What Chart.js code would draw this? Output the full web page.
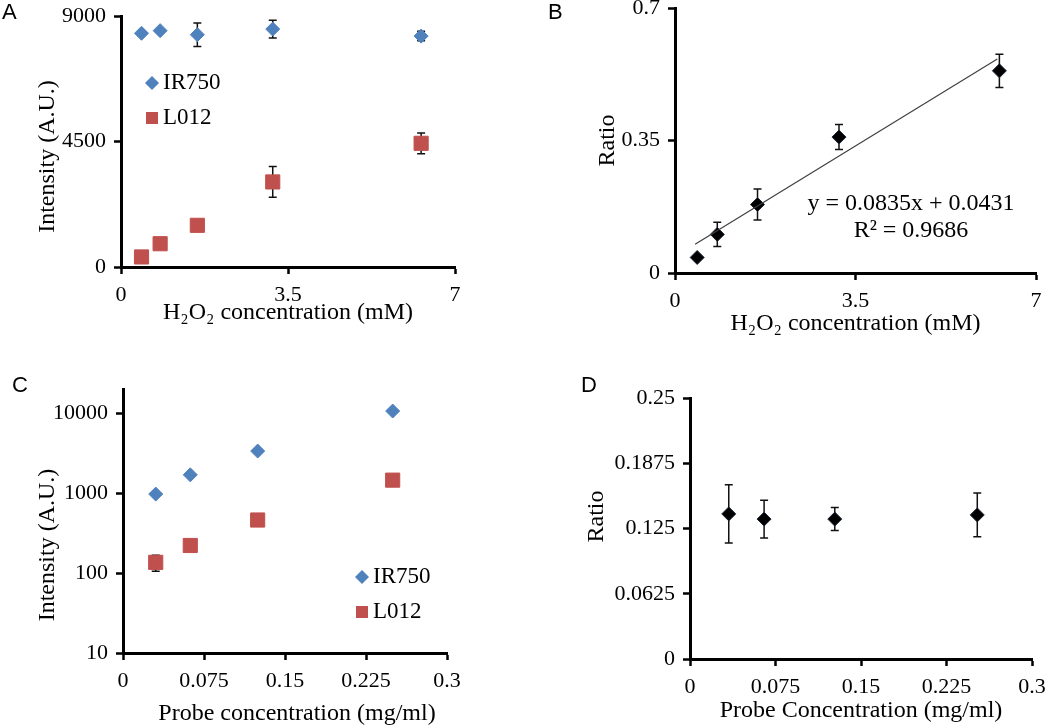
<!DOCTYPE html>
<html>
<head>
<meta charset="utf-8">
<script src="https://cdn.jsdelivr.net/npm/chart.js@4/dist/chart.umd.min.js"></script>
<style>
  body { margin: 0; background: #fff; width: 1050px; height: 728px; position: relative; overflow: hidden; }
  .panel { position: absolute; width: 525px; height: 364px; }
  .tag { position: absolute; font-family: "Liberation Sans", Arial, sans-serif; font-size: 22px; line-height: 22px; color: #000; }
</style>
</head>
<body>
<div class="panel" style="left:0;top:0"><canvas id="chartA" width="525" height="364"></canvas></div>
<div class="panel" style="left:525px;top:0"><canvas id="chartB" width="525" height="364"></canvas></div>
<div class="panel" style="left:0;top:364px"><canvas id="chartC" width="525" height="364"></canvas></div>
<div class="panel" style="left:525px;top:364px"><canvas id="chartD" width="525" height="364"></canvas></div>
<div class="tag" style="left:2px;top:1px">A</div>
<div class="tag" style="left:548px;top:1px">B</div>
<div class="tag" style="left:12px;top:374px">C</div>
<div class="tag" style="left:581px;top:374px">D</div>
<script>
// panel A / B : H2O2 series
const h2o2 = [0.43, 0.82, 1.6, 3.18, 6.29];
const irA = [8380, 8475, 8330, 8530, 8280];
const irAErr = [0, 0, 420, 320, 170];
const lA = [360, 835, 1495, 3050, 4435];
const lAErr = [0, 0, 0, 550, 370];
const ratioB = [0.041, 0.102, 0.181, 0.359, 0.534];
const ratioBErr = [0, 0.032, 0.041, 0.033, 0.044];
const trendX = [0.39, 6.25];
const trendY = [0.076, 0.565];
const trendLabel = ['y = 0.0835x + 0.0431', 'R\u00B2 = 0.9686'];

// panel C / D : probe concentration series
const probeC = [0.0303, 0.0623, 0.1247, 0.2497];
const irC = [970, 1690, 3350, 10600];
const lC = [136, 221, 460, 1450];
const lCErr = [31, 0, 0, 0];
const probeD = [0.034, 0.065, 0.127, 0.252];
const ratioD = [0.139, 0.134, 0.134, 0.138];
const ratioDErr = [0.028, 0.018, 0.011, 0.021];

const logTicks = [10, 100, 1000, 10000];

const serif = '"Liberation Serif", "Times New Roman", serif';
const blue = '#4F81BD';
const red = '#C0504D';

function pts(xs, ys) {
    return xs.map((x, i) => ({x: x, y: ys[i]}));
}

// draws vertical error bars behind the markers
const errorBars = {
    id: 'errorBars',
    beforeDatasetsDraw(chart) {
        const ctx = chart.ctx;
        const xs = chart.scales.x, ys = chart.scales.y;
        ctx.save();
        ctx.strokeStyle = '#111';
        ctx.lineWidth = 1.5;
        chart.data.datasets.forEach(ds => {
            if (!ds.errors) return;
            ds.data.forEach((p, i) => {
                const e = ds.errors[i];
                if (!e) return;
                const px = xs.getPixelForValue(p.x);
                const top = ys.getPixelForValue(p.y + e);
                const bot = ys.getPixelForValue(p.y - e);
                ctx.beginPath();
                ctx.moveTo(px, top); ctx.lineTo(px, bot);
                ctx.moveTo(px - 4, top); ctx.lineTo(px + 4, top);
                ctx.moveTo(px - 4, bot); ctx.lineTo(px + 4, bot);
                ctx.stroke();
            });
        });
        ctx.restore();
    }
};

// legend entries and the trend equation
const notes = {
    id: 'notes',
    afterDraw(chart, args, opts) {
        if (!opts.items) return;
        const ctx = chart.ctx;
        ctx.save();
        opts.items.forEach(it => {
            if (it.marker) {
                ctx.fillStyle = it.color;
                ctx.beginPath();
                if (it.marker === 'diamond') {
                    ctx.moveTo(it.mx, it.y - 7); ctx.lineTo(it.mx + 7, it.y);
                    ctx.lineTo(it.mx, it.y + 7); ctx.lineTo(it.mx - 7, it.y);
                    ctx.closePath();
                } else {
                    ctx.rect(it.mx - 6, it.y - 6, 12, 12);
                }
                ctx.fill();
            }
            ctx.fillStyle = '#000';
            ctx.font = it.size + 'px ' + serif;
            ctx.textAlign = it.align || 'left';
            ctx.textBaseline = 'middle';
            ctx.fillText(it.text, it.x, it.y);
        });
        ctx.restore();
    }
};

function fmt(v) {
    return String(+(+v).toFixed(4));
}

function axis(min, max, step, title, titlePad, tickPad, extra) {
    return Object.assign({
        type: 'linear',
        min: min,
        max: max,
        border: {display: true, color: '#000', width: 3},
        grid: {display: true, drawOnChartArea: false, drawTicks: true, tickLength: 7, tickWidth: 2.5, tickColor: '#000'},
        ticks: {stepSize: step, color: '#000', font: {family: serif, size: 22}, padding: tickPad, maxRotation: 0, autoSkip: false, callback: fmt},
        title: {display: true, text: title, color: '#000', font: {family: serif, size: 24}, padding: titlePad}
    }, extra || {});
}

function makeChart(id, datasets, xAxis, yAxis, box, legendItems) {
    xAxis.afterFit = s => { s.height = box.h; s.paddingLeft = 0; s.paddingRight = 0; };
    yAxis.afterFit = s => { s.width = box.w; s.paddingTop = 0; s.paddingBottom = 0; };
    return new Chart(document.getElementById(id), {
        type: 'scatter',
        data: {datasets: datasets},
        options: {
            responsive: false,
            animation: false,
            layout: {padding: {left: 0, right: box.r, top: box.t, bottom: 0}},
            scales: {x: xAxis, y: yAxis},
            plugins: {
                legend: {display: false},
                tooltip: {enabled: false},
                notes: {items: legendItems}
            }
        },
        plugins: [errorBars, notes]
    });
}

function diamonds(xs, ys, errs, color) {
    return {data: pts(xs, ys), errors: errs, pointStyle: 'rectRot', pointRadius: 7, pointHoverRadius: 7,
        backgroundColor: color, borderColor: color, borderWidth: 1};
}
function squares(xs, ys, errs, color) {
    return {data: pts(xs, ys), errors: errs, pointStyle: 'rect', pointRadius: 10, pointHoverRadius: 10,
        backgroundColor: color, borderColor: color, borderWidth: 1};
}

// A
makeChart('chartA',
    [diamonds(h2o2, irA, irAErr, blue), squares(h2o2, lA, lAErr, red)],
    axis(0, 7, 3.5, 'H\u2082O\u2082 concentration (mM)', {bottom: 37}, 8),
    axis(0, 9000, 4500, 'Intensity (A.U.)     ', {top: 33}, 8),
    {w: 121, h: 97, r: 70, t: 16},
    [
        {marker: 'diamond', color: blue, mx: 152, x: 163, y: 83, text: 'IR750', size: 23},
        {marker: 'square', color: red, mx: 152, x: 163, y: 118, text: 'L012', size: 23}
    ]);

// B
makeChart('chartB',
    [
        {type: 'line', data: pts(trendX, trendY), showLine: true, pointRadius: 0, borderColor: '#404040', borderWidth: 1.2, fill: false},
        Object.assign(diamonds(h2o2, ratioB, ratioBErr, '#000'), {borderColor: '#1c2636'})
    ],
    axis(0, 7, 3.5, 'H\u2082O\u2082 concentration (mM)', {bottom: 26}, 8),
    axis(0, 0.7, 0.35, 'Ratio', {top: 68}, 8),
    {w: 150, h: 91, r: 14, t: 6},
    [
        {x: 386, y: 204, text: trendLabel[0], size: 24, align: 'center'},
        {x: 386, y: 231, text: trendLabel[1], size: 24, align: 'center'}
    ]);

// C
const yLog = axis(10, 20000, null, 'Intensity (A.U.)        ', {top: 33}, 8, {type: 'logarithmic'});
yLog.afterBuildTicks = s => { s.ticks = logTicks.map(v => ({value: v})); };
makeChart('chartC',
    [diamonds(probeC, irC, null, blue), squares(probeC, lC, lCErr, red)],
    axis(0, 0.3, 0.075, '    Probe concentration (mg/ml)', {bottom: 0}, 8),
    yLog,
    {w: 123, h: 75, r: 78, t: 25},
    [
        {marker: 'diamond', color: blue, mx: 362, x: 373, y: 213, text: 'IR750', size: 23},
        {marker: 'square', color: red, mx: 362, x: 373, y: 248, text: 'L012', size: 23}
    ]);

// D
makeChart('chartD',
    [Object.assign(diamonds(probeD, ratioD, ratioDErr, '#000'), {borderColor: '#1c2636'})],
    axis(0, 0.3, 0.075, 'Probe Concentration (mg/ml)', {bottom: 3}, 8),
    axis(0, 0.25, 0.0625, '    Ratio', {top: 57}, 8),
    {w: 165, h: 69, r: 18, t: 34},
    []);
</script>
</body>
</html>
